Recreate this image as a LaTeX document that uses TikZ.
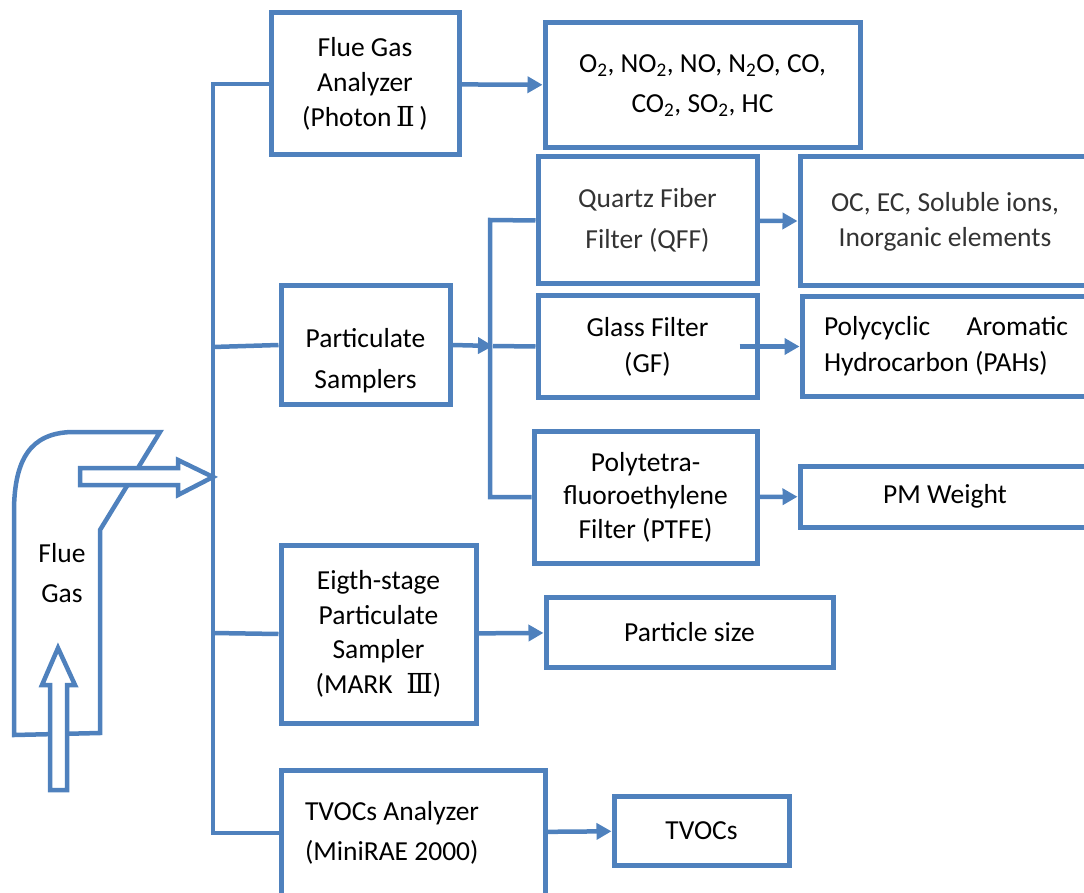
\documentclass[tikz,border=0pt]{standalone}
\usepackage{fontspec}
\setmainfont{Carlito}
\newfontfamily\romfont{DejaVu Serif}
\usetikzlibrary{arrows.meta}
\definecolor{azul}{RGB}{79,129,189}
\begin{document}
\begin{tikzpicture}[x=1pt,y=-1pt,
    caja/.style={draw=azul,line width=5pt,inner sep=0pt,align=center,font=\fontsize{27.5}{#1}\selectfont},
    caja/.default=35,
    linea/.style={draw=azul,line width=4.5pt},
    flecha/.style={linea,-{Triangle[length=15pt,width=16pt]}},
    hueca/.style={draw=azul,line width=4.5pt,fill=white,line join=miter}]
    \useasboundingbox (0,0) rectangle (1084,893);
    \clip (0,0) rectangle (1084,893);

    %Chimenea
    \draw[azul,line width=4.5pt] (100,530) -- (160,432) -- (72,432)
        .. controls (30,433) and (15,460) .. (14,508) -- (14,735) -- (100,733) -- cycle;
    \draw[hueca] (80,468) -- (178,468) -- (178,460) -- (213,477) -- (178,495) -- (178,485) -- (80,485) -- cycle;
    \draw[hueca] (50,790) -- (50,685) -- (42,685) -- (58,648) -- (75,685) -- (67,685) -- (67,790) -- cycle;
    \node[align=center,font=\fontsize{27.5}{40}\selectfont] (flue) at (62,573) {Flue\\Gas};

    %Cajas
    \node[caja,minimum width=188pt,minimum height=142pt] (fga) at (365,84) {Flue Gas\\Analyzer\\(Photon\,{\romfont Ⅱ}\,)};
    \node[caja=40,minimum width=315pt,minimum height=125pt] (gases) at (702.5,85.5)
        {O\textsubscript{2}, NO\textsubscript{2}, NO, N\textsubscript{2}O, CO,\\CO\textsubscript{2}, SO\textsubscript{2}, HC};
    \node[caja=41,minimum width=169pt,minimum height=118pt] (ps) at (365.5,345) {\rule{0pt}{50pt}Particulate\\Samplers};
    \node[caja=41,minimum width=219pt,minimum height=127pt,text=black!80] (qff) at (647.5,220.5) {Quartz Fiber\\Filter (QFF)};
    \node[caja,minimum width=290pt,minimum height=129pt,text=black!80] (oc) at (945,221.5) {OC, EC, Soluble ions,\\Inorganic elements};
    \node[caja=36,minimum width=219pt,minimum height=101pt] (gf) at (647.5,346.5) {Glass Filter\\(GF)};
    \node[caja=36,minimum width=288pt,minimum height=99pt] (pah) at (946,346.5)
        {\makebox[244pt][s]{Polycyclic\hfill Aromatic}\\\makebox[244pt][l]{Hydrocarbon (PAHs)}};
    \node[caja=33.5,minimum width=223pt,minimum height=132pt] (ptfe) at (645.5,497) {Polytetra-\\fluoroethylene\\Filter (PTFE)};
    \node[caja,minimum width=290pt,minimum height=61pt] (pm) at (945,496.5) {PM Weight};
    \node[caja=34.5,minimum width=195pt,minimum height=178pt] (ess) at (378.5,634)
        {Eigth-stage\\Particulate\\Sampler\\(MARK\enspace{\romfont Ⅲ})};
    \node[caja,minimum width=287pt,minimum height=70pt] (psz) at (689.5,632) {Particle size};
    \node[caja=40,minimum width=264pt,minimum height=126pt] (tva) at (413,833)
        {\makebox[216pt][l]{TVOCs Analyzer}\\\makebox[216pt][l]{(MiniRAE 2000)}};
    \node[caja,minimum width=175pt,minimum height=69pt] (tvocs) at (701.5,830.5) {TVOCs};

    %Conexiones
    \coordinate (t1) at (213,84);
    \coordinate (t2) at (213,347);
    \coordinate (t3) at (213,633);
    \coordinate (t4) at (213,833);
    \coordinate (qj) at (490,220);
    \coordinate (pj) at (493,346);
    \coordinate (tj) at (490,497);
    \draw[linea] (fga.west) -- (t1) -- (t4) -- (tva.west);
    \draw[linea] (t2) -- (ps.west);
    \draw[linea] (t3) -- (ess.west);
    \draw[linea] (qff.west) -- (qj) -- (tj) -- (ptfe.west);
    \draw[linea] (pj) -- (gf.west);
    \draw[flecha] (ps.east) -- (pj);
    \draw[flecha] (fga) -- (gases);
    \draw[flecha] (qff) -- (oc);
    \draw[flecha] ([xshift=-20pt]gf.east) -- (pah.west);
    \draw[flecha] (ptfe) -- (pm);
    \draw[flecha] (ess) -- (psz);
    \draw[flecha] (tva) -- (tvocs);
\end{tikzpicture}
\end{document}
